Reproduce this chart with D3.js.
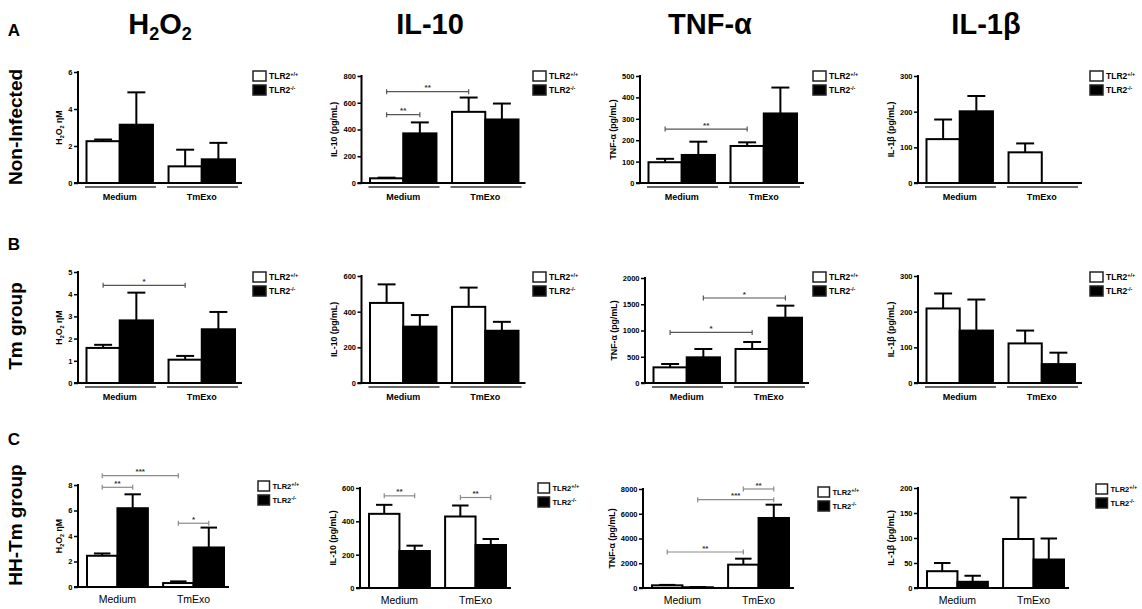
<!DOCTYPE html>
<html><head><meta charset="utf-8">
<script src="https://cdn.jsdelivr.net/npm/d3@7"></script>
<style>body{margin:0;background:#fff}svg{display:block;font-family:"Liberation Sans",Arial,sans-serif}</style>
</head><body><svg id="c" width="1142" height="609"></svg>
<script>
// ---------- data ----------
const groups = ["Medium", "TmExo"];
const seriesSup = ["+/+", "-/-"];
const rowLetters = ["A", "B", "C"];
const rowLabels = ["Non-Infected", "Tm group", "HH-Tm group"];
const headings = [[["H"],["2",1],["O"],["2",1]], [["IL-10"]], [["TNF-α"]], [["IL-1β"]]];
const yTitles = [[["H"],["2",1],["O"],["2",1],[" ηM"]], [["IL-10 (pg/mL)"]], [["TNF-α (pg/mL)"]], [["IL-1β (pg/mL)"]]];

// y-axis max and tick step per row / analyte
const yMax  = [[6, 800, 500, 300], [5, 600, 2000, 300], [8, 600, 8000, 200]];
const yStep = [[2, 200, 100, 100], [1, 200, 500, 100], [2, 200, 2000, 50]];

// means [Medium, TmExo] for TLR2+/+ (wt) and TLR2-/- (ko)
const wtMeanA = [[2.26, 0.9], [35, 532], [97, 173], [123, 86]];
const koMeanA = [[3.15, 1.28], [371, 475], [131, 325], [201, 0]];
const wtErrA  = [[0.09, 0.9], [5, 107], [16, 17], [55, 25]];
const koErrA  = [[1.75, 0.89], [82, 119], [62, 121], [43, 0]];

const wtMeanB = [[1.58, 1.05], [449, 427], [298, 648], [209, 111]];
const koMeanB = [[2.82, 2.42], [316, 293], [489, 1244], [147, 53]];
const wtErrB  = [[0.14, 0.17], [104, 108], [64, 133], [42, 36]];
const koErrB  = [[1.25, 0.78], [65, 50], [159, 229], [87, 32]];

const wtMeanC = [[2.45, 0.31], [445, 429], [215, 1886], [33.6, 98]];
const koMeanC = [[6.18, 3.1], [222, 258], [60, 5657], [12.4, 57]];
const wtErrC  = [[0.18, 0.13], [54, 66], [35, 484], [16.4, 83]];
const koErrC  = [[1.09, 1.56], [32, 36], [20, 1077], [12.1, 42]];

// significance brackets: [row, col, fromGroup, fromSeries, toGroup, toSeries, yValue, label]
const sigs = [
  [0,1, 0,0, 0,1, 511, "**"], [0,1, 0,0, 1,0, 683, "**"],
  [0,2, 0,0, 1,0, 252, "**"],
  [1,0, 0,0, 1,0, 4.4, "*"],
  [1,2, 0,0, 1,0, 964, "*"], [1,2, 0,1, 1,1, 1619, "*"],
  [2,0, 0,0, 0,1, 7.82, "**"], [2,0, 0,0, 1,0, 8.73, "***"], [2,0, 1,0, 1,1, 5.0, "*"],
  [2,1, 0,0, 0,1, 553, "**"], [2,1, 1,0, 1,1, 543, "**"],
  [2,2, 0,0, 1,0, 2909, "**"], [2,2, 0,1, 1,1, 7135, "***"], [2,2, 1,0, 1,1, 8000, "**"]
];

const wtMean = [wtMeanA, wtMeanB, wtMeanC], koMean = [koMeanA, koMeanB, koMeanC];
const wtErr = [wtErrA, wtErrB, wtErrC], koErr = [koErrA, koErrB, koErrC];

// ---------- layout ----------
const axisXs = [[78, 361.5, 640, 918], [78, 361.5, 645, 918], [78, 360, 643, 918]];
const tops   = [[72, 76, 76, 76], [272, 276, 278, 276], [485, 488, 489, 488]];
const zeros  = [[183, 183, 183, 183], [383, 383, 383, 383], [587, 588, 588, 588]];
const legXs  = [[253, 533, 813, 1090], [253, 533, 813, 1090], [258, 538, 818, 1096]];
const legYs  = [[71, 71, 71, 71], [272, 272, 272, 272], [481, 483, 487, 484]];

const svg = d3.select("#c");

function rich(sel, parts, size) {
  let shifted = false;
  parts.forEach(p => {
    const t = sel.append("tspan").text(p[0]);
    if (p[1]) { t.attr("font-size", size * 0.62).attr("dy", size * 0.22); shifted = true; }
    else if (shifted) { t.attr("dy", -size * 0.22); shifted = false; }
  });
}

// headings
const headX = [160, 430, 710, 986];
headings.forEach((h, i) => {
  const t = svg.append("text").attr("x", headX[i]).attr("y", 34).attr("text-anchor", "middle")
    .attr("font-weight", "bold").attr("font-size", 29);
  rich(t, h, 29);
});

// row letters / labels
const letterY = [36, 250, 445];
const rowLabelY = [127, 326, 525];
rowLetters.forEach((l, r) => {
  svg.append("text").attr("x", 14).attr("y", letterY[r]).attr("text-anchor", "middle")
    .attr("font-weight", "bold").attr("font-size", 17).text(l);
  svg.append("text").attr("transform", `translate(22,${rowLabelY[r]}) rotate(-90)`)
    .attr("text-anchor", "middle").attr("font-weight", "bold").attr("font-size", 19).text(rowLabels[r]);
});

for (let r = 0; r < 3; r++) {
  for (let c = 0; c < 4; c++) {
    const ax = axisXs[r][c], y0 = zeros[r][c], yt = tops[r][c];
    const rowC = r === 2;
    const g = svg.append("g");
    const y = d3.scaleLinear().domain([0, yMax[r][c]]).range([y0, yt]);
    const x = d3.scaleBand().domain(groups)
      .range(rowC ? [ax + 9, ax + 146] : [ax + 8.5, ax + 157]).paddingInner(rowC ? 0.2 : 0.19);
    const xs = d3.scaleBand().domain([0, 1]).range([0, x.bandwidth()]);
    const axisEnd = ax + (rowC ? 151 : 164);

    // y axis
    const ticks = d3.range(0, yMax[r][c] + 1e-9, yStep[r][c]);
    const yAxis = g.append("g").attr("transform", `translate(${ax},0)`)
      .call(d3.axisLeft(y).tickValues(ticks).tickSize(4).tickPadding(1.5).tickFormat(d3.format("d")));
    yAxis.select(".domain").remove();
    yAxis.selectAll(".tick line").attr("stroke", "#000").attr("stroke-width", 1.5);
    yAxis.selectAll(".tick text").attr("font-size", 7.5).attr("font-weight", "bold")
      .attr("font-family", "Liberation Sans, Arial, sans-serif").attr("fill", "#000");
    g.append("line").attr("x1", ax).attr("x2", ax).attr("y1", y0 + 1).attr("y2", yt - 1)
      .attr("stroke", "#000").attr("stroke-width", 2);
    g.append("line").attr("x1", ax - 4).attr("x2", axisEnd).attr("y1", y0).attr("y2", y0)
      .attr("stroke", "#000").attr("stroke-width", 2);

    // y title
    let maxW = 0;
    yAxis.selectAll(".tick text").each(function () { maxW = Math.max(maxW, this.getComputedTextLength()); });
    const tx = ax - 4 - 1.5 - maxW - 6;
    const tt = g.append("text").attr("transform", `translate(${tx},${(y0 + yt) / 2}) rotate(-90)`)
      .attr("text-anchor", "middle").attr("font-size", 8.8).attr("font-weight", "bold");
    rich(tt, yTitles[c], 8.8);

    // bars
    const bars = [];
    groups.forEach((gr, gi) => {
      bars.push({ gi, s: 0, v: wtMean[r][c][gi], e: wtErr[r][c][gi] });
      bars.push({ gi, s: 1, v: koMean[r][c][gi], e: koErr[r][c][gi] });
    });
    const bw = xs.bandwidth();
    const bx = d => x(groups[d.gi]) + xs(d.s);
    // error bars (behind)
    g.selectAll(".err").data(bars.filter(d => d.v > 0)).join("g").each(function (d) {
      const cx = bx(d) + bw / 2;
      const s = d3.select(this);
      s.append("line").attr("x1", cx).attr("x2", cx).attr("y1", y(d.v)).attr("y2", y(d.v + d.e))
        .attr("stroke", "#000").attr("stroke-width", 2);
      s.append("line").attr("x1", cx - bw * 0.27).attr("x2", cx + bw * 0.27)
        .attr("y1", y(d.v + d.e)).attr("y2", y(d.v + d.e)).attr("stroke", "#000").attr("stroke-width", 2);
    });
    g.selectAll(".bar").data(bars.filter(d => d.v > 0)).join("rect")
      .attr("x", d => bx(d)).attr("width", bw)
      .attr("y", d => y(d.v)).attr("height", d => y0 - y(d.v))
      .attr("fill", d => d.s ? "#000" : "#fff").attr("stroke", "#000").attr("stroke-width", 2);

    // group labels
    groups.forEach(gr => {
      const gx = x(gr);
      if (!rowC) {
        g.append("line").attr("x1", gx - 1.5).attr("x2", gx + x.bandwidth() + 3)
          .attr("y1", y0 + 4).attr("y2", y0 + 4).attr("stroke", "#333").attr("stroke-width", 1.5);
        g.append("text").attr("x", gx + x.bandwidth() / 2).attr("y", y0 + 17).attr("text-anchor", "middle")
          .attr("font-size", 9).attr("font-weight", "bold").text(gr);
      } else {
        g.append("text").attr("x", gx + x.bandwidth() / 2).attr("y", y0 + 16).attr("text-anchor", "middle")
          .attr("font-size", 10.5).text(gr);
      }
    });

    // significance brackets
    sigs.filter(s => s[0] === r && s[1] === c).forEach(s => {
      const x1 = x(groups[s[2]]) + xs(s[3]) + bw / 2;
      const x2 = x(groups[s[4]]) + xs(s[5]) + bw / 2;
      const yy = y(s[6]);
      const col = rowC ? "#8a8a8a" : "#555";
      g.append("line").attr("x1", x1).attr("x2", x2).attr("y1", yy).attr("y2", yy).attr("stroke", col).attr("stroke-width", 1.2);
      [x1, x2].forEach(xx => g.append("line").attr("x1", xx).attr("x2", xx).attr("y1", yy - 2.5).attr("y2", yy + 2.5)
        .attr("stroke", col).attr("stroke-width", 1.2));
      g.append("text").attr("x", (x1 + x2) / 2).attr("y", yy - 1.5).attr("text-anchor", "middle")
        .attr("font-size", 8).attr("font-weight", "bold").attr("fill", "#333").text(s[7]);
    });

    // legend
    const lx = legXs[r][c], ly = legYs[r][c];
    const bh = 10, bwid = rowC ? 11.5 : 13;
    seriesSup.forEach((sup, si) => {
      const yy = ly + si * 14;
      g.append("rect").attr("x", lx).attr("y", yy).attr("width", bwid).attr("height", bh)
        .attr("fill", si ? "#000" : "#fff").attr("stroke", "#222").attr("stroke-width", 1.5);
      const t = g.append("text").attr("x", lx + bwid + 3).attr("y", yy + 8).attr("font-size", rowC ? 7.5 : 8.5)
        .attr("font-weight", "bold").text("TLR2");
      t.append("tspan").attr("font-size", 5.5).attr("dy", -3).text(sup);
    });
  }
}
</script></body></html>
